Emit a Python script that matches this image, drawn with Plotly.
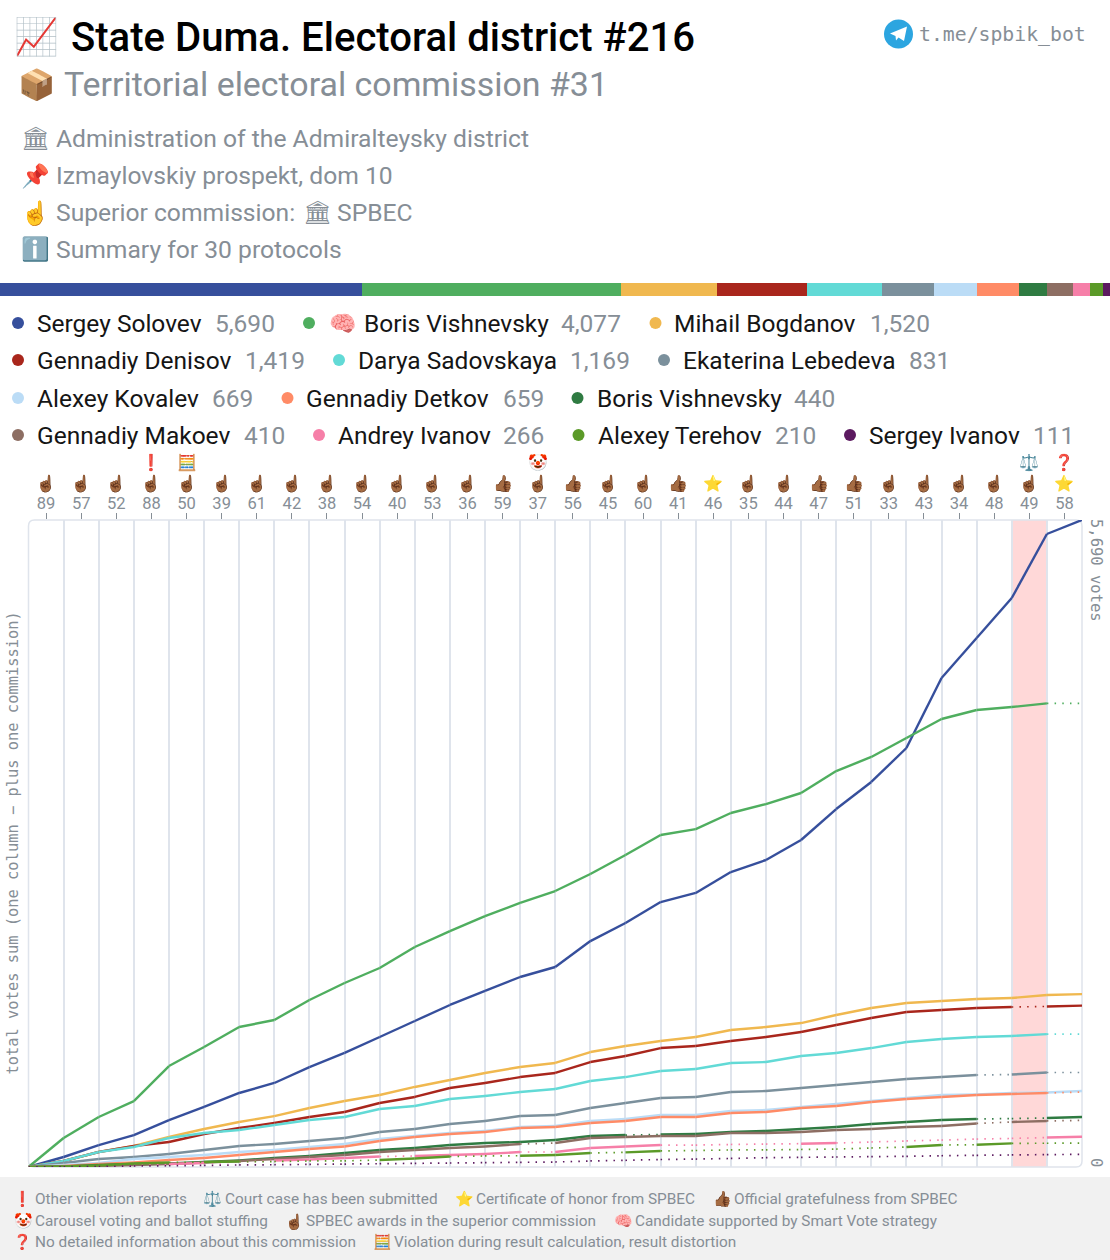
import plotly.graph_objects as go

W, H = 1110, 1260
commissions = [89,57,52,88,50,39,61,42,38,54,40,53,36,59,37,56,45,60,41,46,35,44,47,51,33,43,34,48,49,58]
badge_low = ["f","f","f","f","f","f","f","f","f","f","f","f","f","t","f","t","f","f","t","s","f","f","t","t","f","f","f","f","f","s"]
badge_high = {"88":"❗","50":"🧮","37":"🤡","49":"⚖️","58":"❓"}
steps = list(range(31))

names = ["Sergey Solovev","Boris Vishnevsky","Mihail Bogdanov","Gennadiy Denisov","Darya Sadovskaya","Ekaterina Lebedeva","Alexey Kovalev","Gennadiy Detkov","Boris Vishnevsky","Gennadiy Makoev","Andrey Ivanov","Alexey Terehov","Sergey Ivanov"]
totals = [5690,4077,1520,1419,1169,831,669,659,440,410,266,210,111]
colors = ["#364f9c","#4fae5f","#f0b84f","#a9261c","#62dad6","#7b909c","#bbdcf6","#ff8b66","#2f7b42","#8d6e63","#f67fa8","#5b9a28","#5c1a60"]

solovev = [0,88,193,281,413,528,651,739,879,1003,1143,1284,1425,1548,1671,1759,1987,2146,2330,2410,2594,2700,2876,3148,3386,3685,4300,4652,5004,5567,5690]
vishnevskiy = [0,255,440,580,888,1055,1231,1293,1469,1618,1750,1935,2075,2207,2322,2427,2577,2744,2920,2972,3113,3192,3289,3482,3606,3773,3940,4019,4045,4077,4077]
bogdanov = [0,53,132,185,264,334,396,448,519,580,633,704,765,827,879,915,1011,1064,1108,1143,1205,1231,1266,1337,1398,1442,1460,1477,1486,1513,1520]
denisov = [0,53,132,185,220,290,343,387,440,484,563,616,695,739,791,827,923,976,1046,1064,1108,1143,1187,1249,1310,1363,1381,1398,1407,1412,1419]
sadovskaya = [0,53,132,176,255,299,325,369,413,440,510,536,598,624,660,686,756,791,844,862,915,923,976,1003,1046,1099,1126,1143,1152,1169,1169]
lebedeva = [0,35,70,88,114,150,185,202,229,255,308,334,378,405,448,457,519,563,607,616,660,668,695,721,747,774,791,809,813,831,831]
kovalev = [0,18,35,70,88,106,132,150,176,202,246,273,299,317,352,361,405,422,457,457,492,501,528,554,580,607,633,638,651,655,669]
detkov = [0,9,26,40,62,79,106,132,158,180,229,264,290,308,343,352,387,405,440,440,475,484,519,536,572,598,616,633,642,651,659]
vishnevsky = [0,4,18,26,31,44,57,79,97,123,150,167,193,211,220,237,273,281,286,290,308,317,334,352,378,396,413,422,426,431,440]
makoev = [0,4,9,18,26,40,53,70,88,106,132,150,167,180,202,211,255,264,273,273,299,299,308,325,334,352,361,383,396,405,410]
a_ivanov = [0,0,4,13,26,35,44,57,66,79,92,97,106,114,132,132,167,180,193,193,198,202,205,211,220,229,237,246,251,259,266]
terehov = [0,4,13,31,40,44,48,48,53,53,62,75,92,97,99,106,123,129,141,145,150,150,154,158,167,176,193,196,208,209,210]
s_ivanov = [0,2,4,9,11,14,18,20,23,26,29,32,35,38,41,44,53,59,66,70,75,82,85,88,91,94,99,103,106,109,111]
series = [solovev,vishnevskiy,bogdanov,denisov,sadovskaya,lebedeva,kovalev,detkov,vishnevsky,makoev,a_ivanov,terehov,s_ivanov]

# steps at which the candidate received no protocol data (drawn dotted)
dotted_steps = [
    [],[29],[],[28],[29],[27,29],[],[29],[17,27,28],[14,27,29],
    [0,1,2,3,5,6,10,14,18,19,20,21,23,24,25,26,27,28],
    [4,6,7,8,9,12,13,16,18,19,20,21,22,23,24,26,28,29],
    list(range(30)),
]

GREY = "#868e96"
GRID = "#dfe4ec"
fig = go.Figure()

def px(x): return x / W
def py(y): return 1 - y / H

for name, vals, col, dots in zip(names, series, colors, dotted_steps):
    sx, sy, dx, dy = [], [], [], []
    for i in range(30):
        if i in dots:
            dx += [steps[i], steps[i+1], None]; dy += [vals[i], vals[i+1], None]
        else:
            sx += [steps[i], steps[i+1], None]; sy += [vals[i], vals[i+1], None]
    if sx:
        fig.add_trace(go.Scatter(x=sx, y=sy, mode="lines", name=name, line=dict(color=col, width=2.4), hoverinfo="skip", cliponaxis=False))
    if dx:
        fig.add_trace(go.Scatter(x=dx, y=dy, mode="lines", name=name, line=dict(color=col, width=1.7, dash="1.5px,6.2px"), hoverinfo="skip", cliponaxis=False))

for name, t, col in zip(names, totals, colors):
    fig.add_trace(go.Bar(x=[t], y=["share"], orientation="h", marker=dict(color=col, line=dict(width=0)), xaxis="x2", yaxis="y2", hoverinfo="skip"))

L, R = 28.5, 1082
fig.update_layout(
    width=W, height=H, margin=dict(l=0, r=0, t=0, b=0), autosize=False,
    paper_bgcolor="white", plot_bgcolor="white", showlegend=False,
    barmode="stack", bargap=0,
    font=dict(family="Roboto", color=GREY),
    xaxis=dict(domain=[px(L), px(R)], range=[0, 30], side="top", anchor="y",
               tickmode="array", tickvals=[i + 0.5 for i in range(30)], ticktext=[str(c) for c in commissions],
               ticks="outside", ticklen=6, tickwidth=1, tickcolor="#868e96", ticklabelstandoff=-3,
               tickfont=dict(size=16.5, color=GREY, family="Roboto"),
               showgrid=False, zeroline=False, showline=False,
               minor=dict(tick0=0, dtick=1, showgrid=True, gridcolor=GRID, gridwidth=1.5, ticks="")),
    yaxis=dict(domain=[py(1167), py(520)], range=[0, 5690], showticklabels=False, showgrid=False, zeroline=False, ticks=""),
    xaxis2=dict(domain=[0, 1], range=[0, sum(totals)], anchor="y2", visible=False),
    yaxis2=dict(domain=[py(296), py(283)], anchor="x2", visible=False),
)

shapes = []
shapes.append(dict(type="rect", xref="x", yref="paper", x0=28, x1=29, y0=py(1167), y1=py(520), fillcolor="rgba(255,60,60,0.2)", line_width=0, layer="below"))
shapes.append(dict(type="path", xref="paper", yref="paper", layer="below",
    path=f"M {px(L)} {py(526)} Q {px(L)} {py(520)} {px(L+6)} {py(520)} L {px(R-6)} {py(520)} Q {px(R)} {py(520)} {px(R)} {py(526)} L {px(R)} {py(1161)} Q {px(R)} {py(1167)} {px(R-6)} {py(1167)} L {px(L+6)} {py(1167)} Q {px(L)} {py(1167)} {px(L)} {py(1161)} Z",
    line=dict(color=GRID, width=1.5)))
shapes.append(dict(type="rect", xref="paper", yref="paper", x0=0, x1=1, y0=0, y1=py(1177), fillcolor="#f1f1f1", line_width=0, layer="below"))
shapes.append(dict(type="circle", xref="paper", yref="paper", x0=px(884), x1=px(913), y0=py(48.5), y1=py(19.5), fillcolor="#2ca5e0", line_width=0))
shapes.append(dict(type="path", xref="paper", yref="paper", path=f"M {px(890)} {py(33.5)} L {px(907)} {py(26.5)} L {px(904)} {py(41)} L {px(898.5)} {py(37.5)} L {px(896)} {py(40.5)} L {px(895.5)} {py(36)} Z", fillcolor="white", line_width=0))

def txt(x, y, s, size, color=GREY, family="Roboto", anchor="left", angle=0, weight=None, yanchor="middle"):
    f = dict(size=size, color=color, family=family)
    if weight: f["weight"] = weight
    fig.add_annotation(xref="paper", yref="paper", x=px(x), y=py(y), text=s, showarrow=False,
                       xanchor=anchor, yanchor=yanchor, textangle=angle, font=f, borderpad=0, borderwidth=0)

txt(14, 37, "📈", 36)
txt(71, 37, "State Duma. Electoral district #216", 40.1, color="#000", weight=500)
txt(18, 85, "📦", 30)
txt(64, 85, "Territorial electoral commission #31", 33.9)
rows = [(138,"🏛","Administration of the Admiralteysky district"),(176,"📌","Izmaylovskiy prospekt, dom 10"),(212.5,"☝","Superior commission:"),(250,"ℹ️","Summary for 30 protocols")]
for y, e, s in rows:
    txt(21, y, e, 23)
    txt(56, y, s, 24.65)
txt(303, 212.5, "🏛", 23)
txt(337, 212.5, "SPBEC", 24.65)
txt(919, 34, "t.me/spbik_bot", 19.8, family="DejaVu Sans Mono")

legend_rows = [
    (323, [(18,37,215,0),(309,363.5,561,1),(655.5,674,870,2)]),
    (360, [(18,37,244.5,3),(339,357.5,570,4),(664,683,908.5,5)]),
    (398, [(18,37,212,6),(287.5,306,502.5,7),(577.5,596.5,794,8)]),
    (435, [(18,37,243.5,9),(319,338,503,10),(578.5,597.5,774.5,11),(850,868.5,1033,12)]),
]
for y, items in legend_rows:
    for dot, nx, vx, k in items:
        shapes.append(dict(type="circle", xref="paper", yref="paper", x0=px(dot-6), x1=px(dot+6), y0=py(y+6), y1=py(y-6), fillcolor=colors[k], line_width=0))
        txt(nx, y, names[k], 24.5, color="#151515")
        txt(vx, y, f"{totals[k]:,}", 24.5)
txt(329, 323, "🧠", 22)

for i, c in enumerate(commissions):
    e = {"f":"☝🏾","t":"👍🏾","s":"⭐"}[badge_low[i]]
    fig.add_annotation(xref="x", yref="paper", x=i+0.5, y=py(484), text=e, showarrow=False, font=dict(size=16, color="#6d4c41"))
    if str(c) in badge_high:
        fig.add_annotation(xref="x", yref="paper", x=i+0.5, y=py(462), text=badge_high[str(c)], showarrow=False, font=dict(size=16, color="#be1931"))

txt(13, 843.5, "total votes sum (one column − plus one commission)", 15.4, family="DejaVu Sans Mono", anchor="center", angle=-90)
txt(1096, 570, "5,690 votes", 15.5, family="DejaVu Sans Mono", anchor="center", angle=90)
txt(1096, 1162, "0", 15.5, family="DejaVu Sans Mono", anchor="center", angle=90)

foot = [
    (1199, [(13,"❗",35,"Other violation reports"),(203,"⚖️",225,"Court case has been submitted"),(455,"⭐",476,"Certificate of honor from SPBEC"),(713,"👍🏾",734,"Official gratefulness from SPBEC")]),
    (1221, [(14,"🤡",35,"Carousel voting and ballot stuffing"),(285,"☝🏾",306,"SPBEC awards in the superior commission"),(614,"🧠",635,"Candidate supported by Smart Vote strategy")]),
    (1242, [(13,"❓",35,"No detailed information about this commission"),(373,"🧮",394,"Violation during result calculation, result distortion")]),
]
for y, items in foot:
    for ex, e, tx, s in items:
        txt(ex, y, e, 15, color="#be1931")
        txt(tx, y, s, 15.35)

fig.update_layout(shapes=shapes)
fig.write_html("out.html", config=dict(displayModeBar=False), post_script="document.body.style.margin='0';document.body.style.overflow='hidden';")
